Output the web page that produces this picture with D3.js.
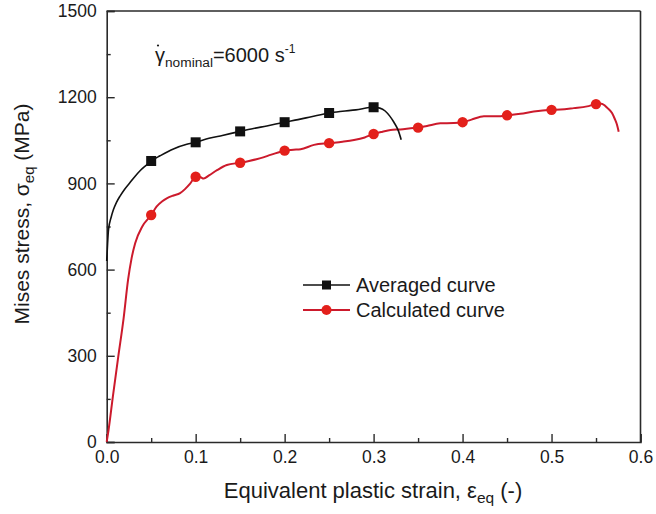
<!DOCTYPE html>
<html>
<head>
<meta charset="utf-8">
<script src="https://cdn.jsdelivr.net/npm/d3@7"></script>
<style>
  html, body { margin: 0; padding: 0; background: #fff; }
  svg { display: block; }
  text { font-family: "Liberation Sans", Arial, sans-serif; fill: #1a1a1a; }
</style>
</head>
<body>
<svg id="chart" width="656" height="514"></svg>
<script>
// ---- data ----
const avgStrain = [0.0, 0.001, 0.002, 0.005, 0.0075, 0.011, 0.015, 0.02, 0.026, 0.032, 0.0375, 0.044, 0.05,
  0.06, 0.075, 0.09, 0.1, 0.115, 0.13, 0.15, 0.165, 0.18, 0.2, 0.215, 0.23, 0.25, 0.265, 0.28, 0.3,
  0.307, 0.313, 0.318, 0.323, 0.328, 0.331];
const avgStress = [630, 690, 738, 782, 808, 834, 856, 879, 902, 925, 944, 962, 978,
  996, 1020, 1036, 1043, 1057, 1067, 1081, 1091, 1100, 1113, 1122, 1132, 1145, 1151, 1156, 1165,
  1162, 1152, 1135, 1112, 1082, 1052];

const calcStrain = [0, 0.002, 0.007, 0.013, 0.019, 0.024, 0.028, 0.032, 0.04, 0.05, 0.056, 0.0625, 0.0675,
  0.075, 0.0825, 0.088, 0.094, 0.1, 0.105, 0.109, 0.115, 0.124, 0.135, 0.15, 0.16, 0.173, 0.185, 0.2,
  0.21, 0.218, 0.233, 0.25, 0.265, 0.278, 0.29, 0.3, 0.31, 0.319, 0.33, 0.345, 0.35, 0.36, 0.375, 0.39,
  0.4, 0.41, 0.424, 0.44, 0.45, 0.465, 0.48, 0.5, 0.51, 0.525, 0.54, 0.55, 0.556, 0.563, 0.568, 0.571,
  0.5735, 0.5755];
const calcStress = [0, 40, 160, 297, 430, 564, 640, 692, 750, 790, 819, 838, 848,
  858, 866, 880, 900, 923, 922, 917, 928, 946, 964, 972, 978, 988, 1000, 1014,
  1017, 1019, 1034, 1040, 1045, 1051, 1060, 1072, 1080, 1086, 1088, 1093, 1094, 1100, 1109, 1110,
  1113, 1122, 1134, 1134, 1137, 1142, 1150, 1156, 1157, 1162, 1168, 1176, 1177, 1162, 1145, 1125,
  1105, 1080];

const markerStrains = [0.05, 0.1, 0.15, 0.2, 0.25, 0.3, 0.35, 0.4, 0.45, 0.5, 0.55];

const xTicks = [0, 0.1, 0.2, 0.3, 0.4, 0.5, 0.6];
const xMinorTicks = [0.05, 0.15, 0.25, 0.35, 0.45, 0.55];
const yTicks = [0, 300, 600, 900, 1200, 1500];
const yMinorTicks = [150, 450, 750, 1050, 1350];

const seriesNames = ["Averaged curve", "Calculated curve"];

// ---- layout ----
const svg = d3.select("#chart");
const pLeft = 106.7, pRight = 640.5, pTop = 11, pBottom = 442;
const x = d3.scaleLinear().domain([0, 0.6]).range([pLeft, pRight]);
const y = d3.scaleLinear().domain([0, 1500]).range([pBottom, pTop]);

const axisColor = "#2a2a2a";

// frame (top & right)
svg.append("line").attr("x1", pLeft).attr("x2", pRight).attr("y1", pTop).attr("y2", pTop)
  .attr("stroke", axisColor).attr("stroke-width", 1.6);
svg.append("line").attr("x1", pRight).attr("x2", pRight).attr("y1", pTop).attr("y2", pBottom)
  .attr("stroke", axisColor).attr("stroke-width", 1.6);

// axes
const gx = svg.append("g").attr("transform", `translate(0,${pBottom})`)
  .call(d3.axisBottom(x).tickValues(xTicks).tickFormat(d3.format(".1f")).tickSize(-8).tickPadding(9));
const gxm = svg.append("g").attr("transform", `translate(0,${pBottom})`)
  .call(d3.axisBottom(x).tickValues(xMinorTicks).tickFormat("").tickSize(-4));
const gy = svg.append("g").attr("transform", `translate(${pLeft},0)`)
  .call(d3.axisLeft(y).tickValues(yTicks).tickFormat(d3.format("d")).tickSize(-8).tickPadding(10));
const gym = svg.append("g").attr("transform", `translate(${pLeft},0)`)
  .call(d3.axisLeft(y).tickValues(yMinorTicks).tickFormat("").tickSize(-4));

[gx, gxm, gy, gym].forEach(g => {
  g.select(".domain").attr("stroke", axisColor).attr("stroke-width", 1.6);
  g.selectAll(".tick line").attr("stroke", axisColor).attr("stroke-width", 1.4);
  g.selectAll(".tick text").attr("font-size", 17.5).attr("font-family", "Liberation Sans, Arial, sans-serif").attr("fill", "#1a1a1a");
});
gxm.select(".domain").remove();
gym.select(".domain").remove();

// lines
const avgData = avgStrain.map((s, i) => [s, avgStress[i]]);
const calcData = calcStrain.map((s, i) => [s, calcStress[i]]);
const line = d3.line().x(d => x(d[0])).y(d => y(d[1])).curve(d3.curveMonotoneX);

const blackColor = "#111111";
const redLine = "#cc1a2c";
const redMarker = "#e3201b";

svg.append("path").datum(calcData).attr("d", line)
  .attr("fill", "none").attr("stroke", redLine).attr("stroke-width", 2);
svg.append("path").datum(avgData).attr("d", line)
  .attr("fill", "none").attr("stroke", blackColor).attr("stroke-width", 1.6);

const isMarker = s => markerStrains.some(m => Math.abs(m - s) < 1e-9);
const ms = 10;
svg.append("g").selectAll("rect").data(avgData.filter(d => isMarker(d[0]))).join("rect")
  .attr("x", d => x(d[0]) - ms / 2).attr("y", d => y(d[1]) - ms / 2)
  .attr("width", ms).attr("height", ms).attr("fill", blackColor);
svg.append("g").selectAll("circle").data(calcData.filter(d => isMarker(d[0]))).join("circle")
  .attr("cx", d => x(d[0])).attr("cy", d => y(d[1])).attr("r", 5.2).attr("fill", redMarker);

// legend
const legY = [285, 310];
const legX0 = 303, legX1 = 350;
[0, 1].forEach(i => {
  svg.append("line").attr("x1", legX0).attr("x2", legX1).attr("y1", legY[i]).attr("y2", legY[i])
    .attr("stroke", i === 0 ? blackColor : redLine).attr("stroke-width", i === 0 ? 1.6 : 2);
  const cx = (legX0 + legX1) / 2;
  if (i === 0) {
    svg.append("rect").attr("x", cx - 4.5).attr("y", legY[i] - 4.5).attr("width", 9).attr("height", 9).attr("fill", blackColor);
  } else {
    svg.append("circle").attr("cx", cx).attr("cy", legY[i]).attr("r", 5).attr("fill", redMarker);
  }
  svg.append("text").attr("x", 356).attr("y", legY[i] + 7).attr("font-size", 20).text(seriesNames[i]);
});

// annotation: gamma-dot nominal = 6000 s^-1
const ann = svg.append("text").attr("x", 155).attr("y", 61.5).attr("font-size", 20);
ann.append("tspan").text("γ");
ann.append("tspan").attr("font-size", 13.7).attr("dy", 5).text("nominal");
ann.append("tspan").attr("dy", -5).text("=6000 s");
ann.append("tspan").attr("font-size", 12).attr("dy", -9).text("-1");
svg.append("circle").attr("cx", 158).attr("cy", 45.5).attr("r", 1.1).attr("fill", "#1a1a1a");

// axis titles
const xt = svg.append("text").attr("x", 373).attr("y", 498).attr("text-anchor", "middle").attr("font-size", 22);
xt.append("tspan").text("Equivalent plastic strain, ε");
xt.append("tspan").attr("font-size", 15.5).attr("dy", 5).text("eq");
xt.append("tspan").attr("dy", -5).text(" (-)");

const yt = svg.append("text").attr("transform", "translate(29,214) rotate(-90)")
  .attr("text-anchor", "middle").attr("font-size", 21);
yt.append("tspan").text("Mises stress, σ");
yt.append("tspan").attr("font-size", 15).attr("dy", 5).text("eq");
yt.append("tspan").attr("dy", -5).text(" (MPa)");
</script>
</body>
</html>
